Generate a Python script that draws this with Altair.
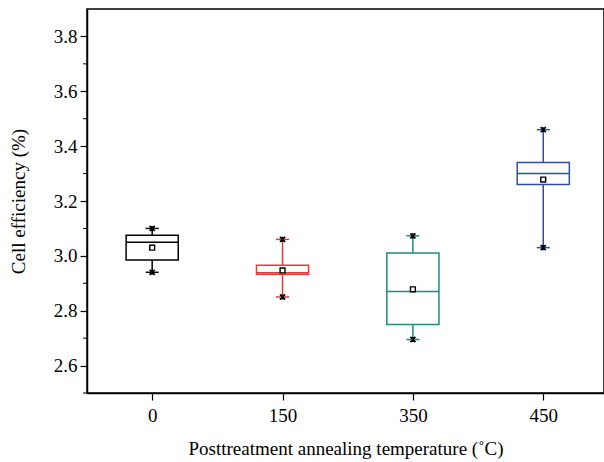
import altair as alt
import pandas as pd

# Box-plot statistics of cell efficiency per annealing temperature
temps = ["0", "150", "350", "450"]
mins = [2.94, 2.85, 2.695, 3.03]
q1s = [2.985, 2.933, 2.75, 3.26]
medians = [3.05, 2.938, 2.87, 3.30]
q3s = [3.075, 2.966, 3.01, 3.34]
maxs = [3.10, 3.06, 3.073, 3.46]
means = [3.03, 2.947, 2.878, 3.278]
colors = ["#000000", "#e8383d", "#1f8a80", "#2f4fa3"]

major_ticks = [2.6, 2.8, 3.0, 3.2, 3.4, 3.6, 3.8]
minor_ticks = [2.5, 2.7, 2.9, 3.1, 3.3, 3.5, 3.7]

FONT = "Liberation Serif"

df = pd.DataFrame({
    "temp": temps, "idx": list(range(len(temps))),
    "min": mins, "q1": q1s, "median": medians, "q3": q3s,
    "max": maxs, "mean": means, "color": colors,
})

label_expr = "[" + ",".join(f"'{t}'" for t in temps) + "][datum.value]"

x_axis = alt.Axis(
    values=list(range(len(temps))), labelExpr=label_expr,
    title="Posttreatment annealing temperature (\u02daC)",
    tickSize=7, labelPadding=6, titlePadding=14, grid=False,
)
x_scale = alt.Scale(domain=[-0.5, 3.466], nice=False, zero=False)
y_scale = alt.Scale(domain=[2.5, 3.9], nice=False, zero=False)
y_axis = alt.Axis(
    values=major_ticks, format=".1f", title="Cell efficiency (%)",
    tickSize=7, labelPadding=3, titlePadding=25, grid=False,
)

base = alt.Chart(df).transform_calculate(
    lo="datum.idx - 0.2", hi="datum.idx + 0.2",
    clo="datum.idx - 0.05", chi="datum.idx + 0.05",
)
line_color = alt.Color("color:N", scale=None, legend=None)

whisk_hi = base.mark_rule(strokeWidth=1.5).encode(
    x=alt.X("idx:Q", scale=x_scale, axis=x_axis),
    y=alt.Y("q3:Q", scale=y_scale, axis=y_axis), y2="max:Q", color=line_color,
)
whisk_lo = base.mark_rule(strokeWidth=1.5).encode(
    x="idx:Q", y="min:Q", y2="q1:Q", color=line_color,
)
box = base.mark_rect(fill="white", strokeWidth=1.5).encode(
    x="lo:Q", x2="hi:Q", y="q1:Q", y2="q3:Q",
    stroke=alt.Stroke("color:N", scale=None, legend=None),
)
median = base.mark_rule(strokeWidth=1.5).encode(
    x="lo:Q", x2="hi:Q", y="median:Q", color=line_color,
)
cap_hi = base.mark_rule(strokeWidth=1.5).encode(
    x="clo:Q", x2="chi:Q", y="max:Q", color=line_color,
)
cap_lo = base.mark_rule(strokeWidth=1.5).encode(
    x="clo:Q", x2="chi:Q", y="min:Q", color=line_color,
)
star_shape = "M-1,-1L1,1M-1,1L1,-1M0,-1L0,1"
star_hi = base.mark_point(shape=star_shape, size=26, stroke="black", strokeWidth=1.7, opacity=1).encode(
    x="idx:Q", y="max:Q",
)
star_lo = base.mark_point(shape=star_shape, size=26, stroke="black", strokeWidth=1.7, opacity=1).encode(
    x="idx:Q", y="min:Q",
)
mean_pt = base.mark_point(shape="square", size=24, filled=True, fill="white",
                          stroke="black", strokeWidth=1.4, opacity=1).encode(
    x="idx:Q", y="mean:Q",
)

minor = alt.Chart(pd.DataFrame({"v": minor_ticks})).mark_rule(color="black", strokeWidth=1).encode(
    x=alt.value(-4), x2=alt.value(0), y=alt.Y("v:Q", scale=y_scale),
)

chart = alt.layer(
    whisk_hi, whisk_lo, box, median, cap_hi, cap_lo, star_hi, star_lo, mean_pt, minor,
).properties(
    width=517, height=384,
    autosize=alt.AutoSizeParams(type="none"),
    padding={"left": 87, "top": 9, "right": 0, "bottom": 69},
    background="white",
).configure_view(
    stroke="black", strokeWidth=1.5,
).configure_axis(
    labelFont=FONT, titleFont=FONT, labelFontSize=19, titleFontSize=19,
    titleFontWeight="normal", labelColor="black", titleColor="black",
    domainColor="black", tickColor="black", domainWidth=1.5, tickWidth=1.2,
)

chart.save("out.html", embed_options={"renderer": "svg", "actions": False})
